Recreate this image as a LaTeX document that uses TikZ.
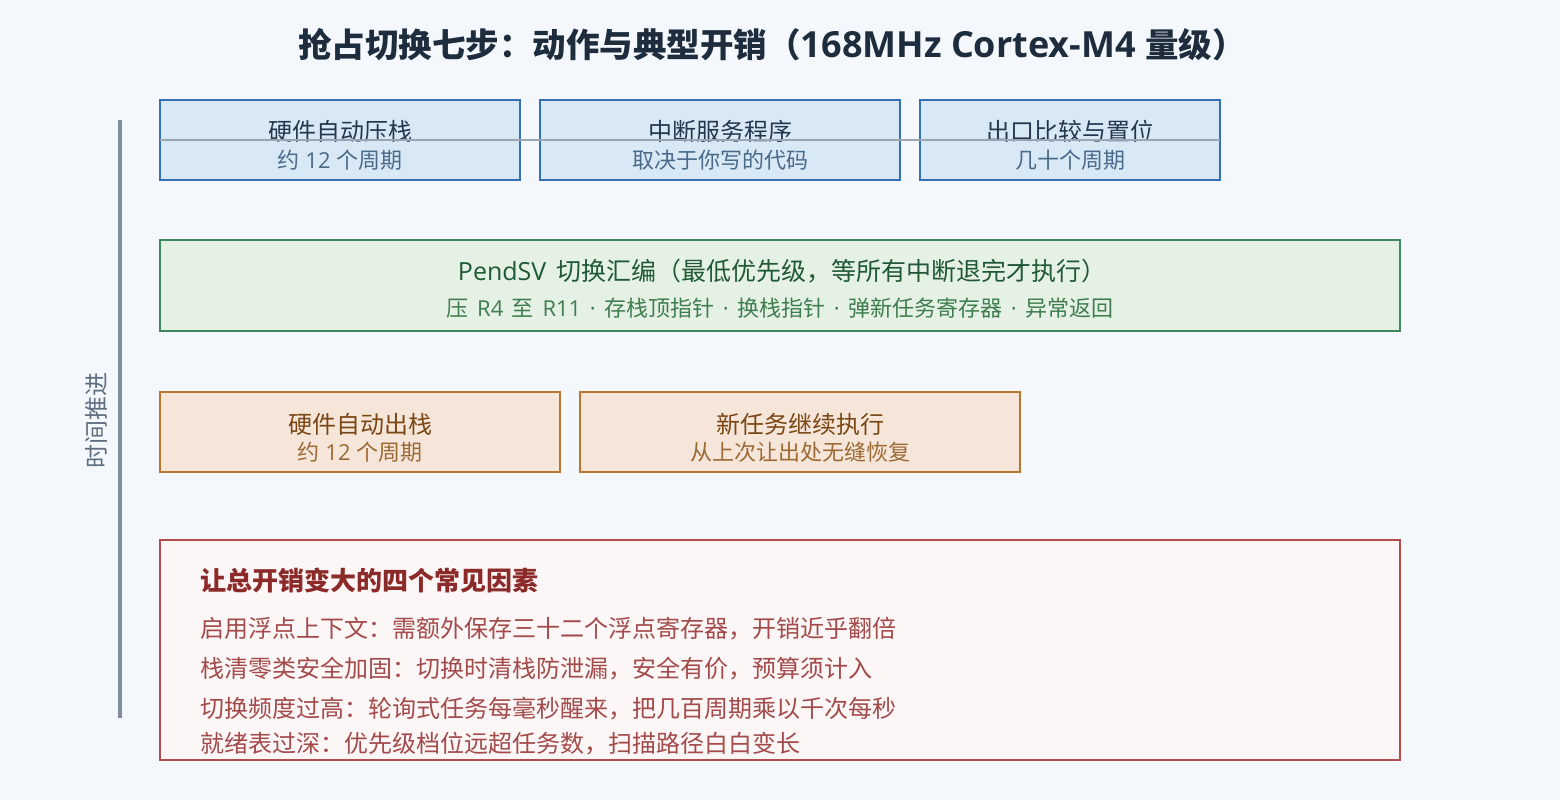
\documentclass[tikz,border=0pt]{standalone}
\usepackage{fontspec}
\setmainfont{Noto Sans CJK SC}
\newfontfamily\lat{Open Sans}
\newcommand{\la}[1]{{\lat #1}}
\newcommand{\wsp}{\hspace{0.39em}}
\begin{document}
\begin{tikzpicture}[x=1pt,y=-1pt,
  box/.style={line width=2pt},
  bluebox/.style={box,draw=boxblue,fill=fillblue},
  greenbox/.style={box,draw=boxgreen,fill=fillgreen},
  orangebox/.style={box,draw=boxorange,fill=fillorange},
  redbox/.style={box,draw=boxred,fill=fillred},
  txt/.style={anchor=base,inner sep=0pt,outer sep=0pt},
  big/.style={txt,font=\fontsize{24}{28}\selectfont},
  small/.style={txt,font=\fontsize{22}{26}\selectfont},
]
\definecolor{bg}{HTML}{F4F8FC}
\definecolor{fillblue}{HTML}{D9E8F5}
\definecolor{boxblue}{HTML}{3470B5}
\definecolor{tblue1}{HTML}{22384F}
\definecolor{tblue2}{HTML}{4A6A8A}
\definecolor{fillgreen}{HTML}{E6F1E5}
\definecolor{boxgreen}{HTML}{3F8A5C}
\definecolor{tgreen1}{HTML}{1F5A35}
\definecolor{tgreen2}{HTML}{3E7D4E}
\definecolor{fillorange}{HTML}{F6E6DA}
\definecolor{boxorange}{HTML}{B7772F}
\definecolor{torange1}{HTML}{7A4714}
\definecolor{torange2}{HTML}{9C6A35}
\definecolor{fillred}{HTML}{FCF6F6}
\definecolor{boxred}{HTML}{B34D4D}
\definecolor{tred1}{HTML}{8C2A2A}
\definecolor{tred2}{HTML}{A34A4A}
\definecolor{titlec}{HTML}{1E2D3D}
\definecolor{axisc}{HTML}{7F8C9D}
\definecolor{axist}{HTML}{5F6E80}
\definecolor{hline}{HTML}{9AA5B1}

\fill[bg] (0,0) rectangle (1560,800);
\useasboundingbox (0,0) rectangle (1560,800);

% title
\node[txt,font=\bfseries\fontsize{33.5}{38}\selectfont,text=titlec] (title) at (772,57) {抢占切换七步：动作与典型开销（{\lat\bfseries\fontsize{36}{38}\selectfont 168MHz Cortex-M4 }量级）};

% time axis
\coordinate (axtop) at (120,120);
\coordinate (axbot) at (120,718);
\draw[axisc,line width=4pt] (axtop) -- (axbot);
\node[txt,rotate=90,font=\fontsize{24}{28}\selectfont,text=axist] (axlabel) at (105,420) {时间推进};

% top boxes
\path[bluebox] (160,100) rectangle (520,180);
\path[bluebox] (540,100) rectangle (900,180);
\path[bluebox] (920,100) rectangle (1220,180);
\node[big,text=tblue1] (b1a) at (340,140) {硬件自动压栈};
\node[small,text=tblue2] (b1b) at (340,168) {约\la{ 12 }个周期};
\node[big,text=tblue1] (b2a) at (720,140) {中断服务程序};
\node[small,text=tblue2] (b2b) at (720,168) {取决于你写的代码};
\node[big,text=tblue1] (b3a) at (1070,140) {出口比较与置位};
\node[small,text=tblue2] (b3b) at (1070,168) {几十个周期};
\coordinate (hl1) at (160,140);
\coordinate (hl2) at (1220,140);
\draw[hline,line width=1.5pt] (hl1) -- (hl2);

% green box
\path[greenbox] (160,240) rectangle (1400,331);
\node[txt,font=\fontsize{25}{29}\selectfont,text=tgreen1] (g1) at (782,280) {\la{PendSV\wsp}切换汇编（最低优先级，等所有中断退完才执行）};
\node[small,text=tgreen2] (g2) at (780,316) {压\la{\wsp R4\wsp}至\la{\wsp R11\wsp·\wsp}存栈顶指针\la{\wsp·\wsp}换栈指针\la{\wsp·\wsp}弹新任务寄存器\la{\wsp·\wsp}异常返回};

% orange boxes
\path[orangebox] (160,392) rectangle (560,472);
\path[orangebox] (580,392) rectangle (1020,472);
\node[big,text=torange1] (o1a) at (360,433) {硬件自动出栈};
\node[small,text=torange2] (o1b) at (360,460) {约\la{ 12 }个周期};
\node[big,text=torange1] (o2a) at (800,433) {新任务继续执行};
\node[small,text=torange2] (o2b) at (800,460) {从上次让出处无缝恢复};

% red box
\path[redbox] (160,540) rectangle (1400,760);
\node[txt,anchor=base west,font=\bfseries\fontsize{26}{30}\selectfont,text=tred1] (rh) at (200,590) {让总开销变大的四个常见因素};
\node[big,anchor=base west,text=tred2] (r1) at (200,637) {启用浮点上下文：需额外保存三十二个浮点寄存器，开销近乎翻倍};
\node[big,anchor=base west,text=tred2] (r2) at (200,677) {栈清零类安全加固：切换时清栈防泄漏，安全有价，预算须计入};
\node[big,anchor=base west,text=tred2] (r3) at (200,717) {切换频度过高：轮询式任务每毫秒醒来，把几百周期乘以千次每秒};
\node[big,anchor=base west,text=tred2] (r4) at (200,752) {就绪表过深：优先级档位远超任务数，扫描路径白白变长};
\end{tikzpicture}
\end{document}
